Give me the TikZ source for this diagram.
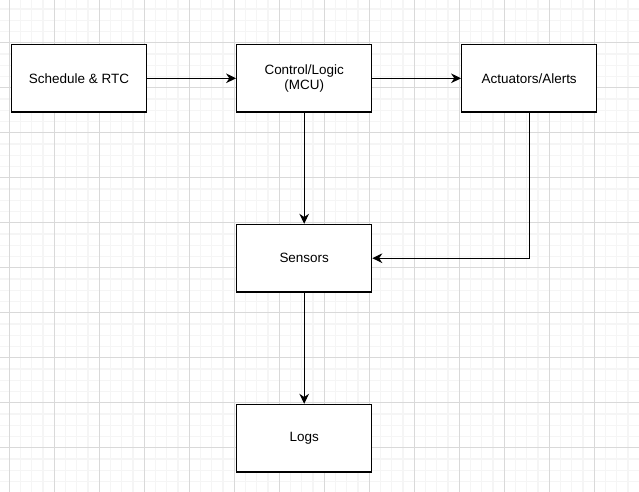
\documentclass[tikz,border=0pt]{standalone}
\usepackage{fontspec}
\setmainfont{Liberation Sans}
\usetikzlibrary{arrows.meta,positioning}

\tikzset{
    block/.style={rectangle,draw,line width=0.9pt,fill=white,minimum width=101.25pt,minimum height=50.7pt,align=center,font=\fontsize{10.1}{11.3}\selectfont},
    flow/.style={-{Stealth[length=7.5pt,width=7.2pt,inset=2.4pt]},line width=0.9pt},
    minorgrid/.style={black!4,line width=1pt},
    majorgrid/.style={black!15,line width=0.75pt}
}

\begin{document}
\begin{tikzpicture}[x=0.75pt,y=-0.75pt]
        \useasboundingbox (0,0) rectangle (639,492);
        \fill[white] (0,0) rectangle (639,492);

        % background grid
        \begin{scope}
            \clip (0,0) rectangle (639,492);
            \foreach \i in {-1,...,57} {
                \draw[minorgrid] (9.3+11.25*\i,0) -- (9.3+11.25*\i,492);
            }
            \foreach \j in {0,...,44} {
                \draw[minorgrid] (0,-2.3+11.25*\j) -- (639,-2.3+11.25*\j);
            }
            \foreach \i in {0,...,14} {
                \draw[majorgrid] (9.3+45*\i,0) -- (9.3+45*\i,492);
            }
            \foreach \j in {1,...,11} {
                \draw[majorgrid] (0,-2.3+45*\j) -- (639,-2.3+45*\j);
            }
        \end{scope}

        \begin{scope}[every node/.style={block}]
            \node (sched) at (79,78.3) {Schedule \& RTC};
            \node (ctrl) at (304.2,78.3) {Control/Logic\\(MCU)};
            \node (act) at (529.2,78.3) {Actuators/Alerts};
            \node (sens) at (304.2,258.2) {Sensors};
            \node (logs) at (304.2,438.2) {Logs};
        \end{scope}
        \begin{scope}[every path/.style={flow}]
            \path (sched) edge (ctrl);
            \path (ctrl) edge (act);
            \path (ctrl) edge (sens);
            \path (act.south) edge[to path={|- (\tikztotarget)}] (sens.east);
            \path (sens) edge (logs);
        \end{scope}
        \end{tikzpicture}
\end{document}
